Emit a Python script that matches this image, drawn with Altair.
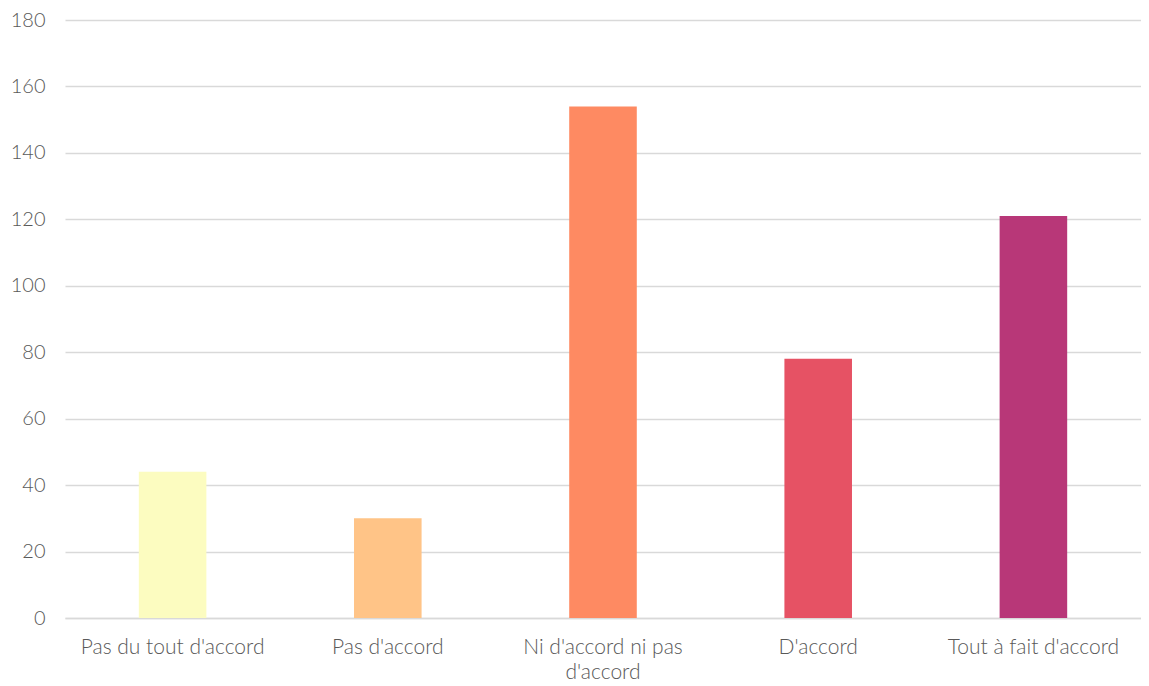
import altair as alt
import pandas as pd

categories = ["Pas du tout d'accord", "Pas d'accord", "Ni d'accord ni pas d'accord", "D'accord", "Tout à fait d'accord"]
values = [44, 30, 154, 78, 121]
colors = ["#FCFCC0", "#FFC487", "#FE8A62", "#E65264", "#B83778"]

df = pd.DataFrame({"cat": categories, "val": values, "color": colors})

label_expr = "datum.value == \"Ni d'accord ni pas d'accord\" ? [\"Ni d'accord ni pas\", \"d'accord\"] : datum.value"

chart = alt.Chart(df).mark_bar().encode(
    x=alt.X("cat:N", sort=categories, title=None,
            scale=alt.Scale(paddingInner=0.686, paddingOuter=0.343),
            axis=alt.Axis(labelAngle=0, labelExpr=label_expr, ticks=False,
                          domainColor="#D9D9D9", domainWidth=1.5,
                          labelFont="Lato", labelFontSize=21, labelFontWeight=300,
                          labelColor="#595959", labelLimit=0,
                          labelPadding=18, labelLineHeight=25)),
    y=alt.Y("val:Q", title=None,
            scale=alt.Scale(domain=[0, 180]),
            axis=alt.Axis(values=list(range(0, 181, 20)), domain=False, ticks=False,
                          gridColor="#D9D9D9", gridWidth=1.5,
                          labelFont="Lato", labelFontSize=20, labelFontWeight=300,
                          labelColor="#595959",
                          labelPadding=20)),
    color=alt.Color("color:N", scale=None),
).properties(
    width=1076, height=598,
    autosize=alt.AutoSizeParams(type="none"),
    padding={"left": 57, "top": 12, "right": 0, "bottom": 66},
).configure_view(stroke=None)

chart.save("out.html", embed_options={"renderer": "svg", "actions": False})
